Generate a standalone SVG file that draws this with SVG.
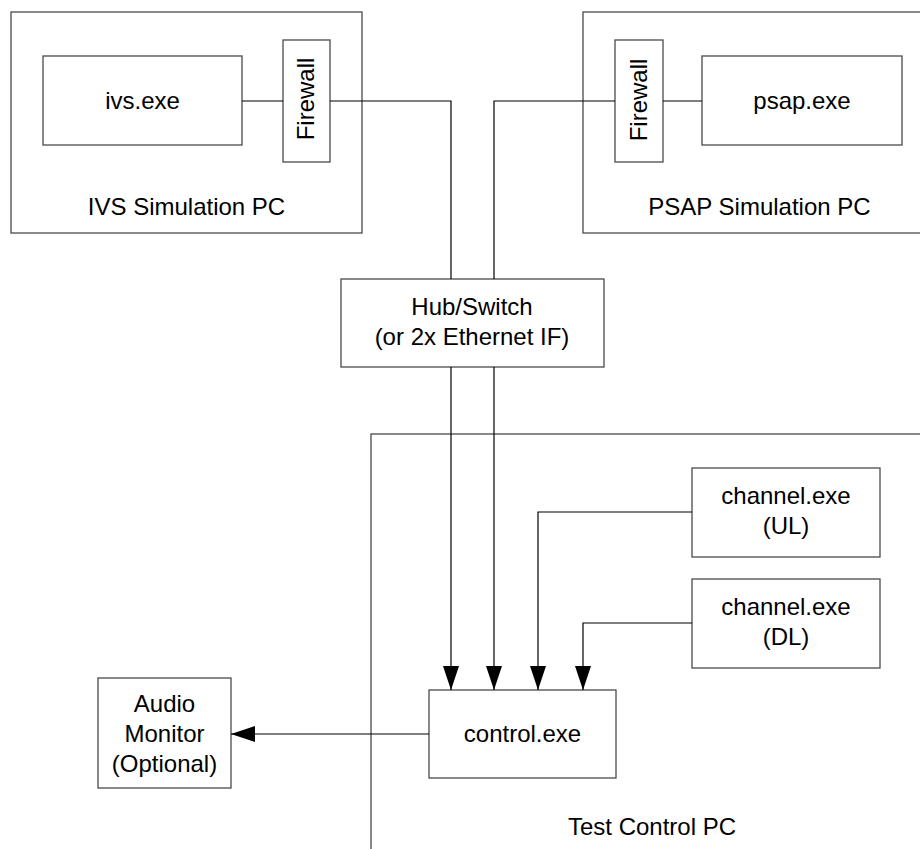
<svg xmlns="http://www.w3.org/2000/svg" width="920" height="849" viewBox="0 0 920 849">
<style>
.box{fill:none;stroke:#4a4a4a;stroke-width:1.3}
.ln{fill:none;stroke:#000;stroke-width:1.2}
text{font-family:"Liberation Sans",Arial,sans-serif;font-size:24px;fill:#000;text-anchor:middle}
</style>
<defs>
<marker id="arr" viewBox="0 0 24 16" refX="24" refY="8" markerWidth="24" markerHeight="16" markerUnits="userSpaceOnUse" orient="auto">
<path d="M0,0 L24,8 L0,16 z" fill="#000"/>
</marker>
</defs>
<rect width="920" height="849" fill="#fff"/>
<g id="ivs-pc">
<rect class="box" x="11" y="12" width="351" height="221"/>
<text x="186.5" y="215">IVS Simulation PC</text>
</g>
<g id="ivs-exe">
<rect class="box" x="43" y="56" width="199" height="89"/>
<text x="142.5" y="109">ivs.exe</text>
</g>
<g id="ivs-firewall">
<rect class="box" x="283" y="40" width="47" height="122"/>
<text transform="translate(314,99) rotate(-90)">Firewall</text>
</g>
<g id="psap-pc">
<rect class="box" x="583" y="12" width="345" height="221"/>
<text x="759.5" y="215">PSAP Simulation PC</text>
</g>
<g id="psap-firewall">
<rect class="box" x="615" y="40" width="48" height="122"/>
<text transform="translate(647,100) rotate(-90)">Firewall</text>
</g>
<g id="psap-exe">
<rect class="box" x="702" y="56" width="200" height="89"/>
<text x="802" y="109">psap.exe</text>
</g>
<g id="hub">
<rect class="box" x="341" y="279" width="263" height="88"/>
<text x="472" y="315">Hub/Switch</text>
<text x="472" y="345">(or 2x Ethernet IF)</text>
</g>
<g id="test-pc">
<rect class="box" x="371" y="434" width="560" height="430"/>
<text x="652" y="835">Test Control PC</text>
</g>
<g id="channel-ul">
<rect class="box" x="692" y="468" width="188" height="89"/>
<text x="786" y="504">channel.exe</text>
<text x="786" y="534">(UL)</text>
</g>
<g id="channel-dl">
<rect class="box" x="692" y="579" width="188" height="89"/>
<text x="786" y="615">channel.exe</text>
<text x="786" y="645">(DL)</text>
</g>
<g id="control">
<rect class="box" x="429" y="690" width="187" height="88"/>
<text x="522.5" y="742">control.exe</text>
</g>
<g id="audio">
<rect class="box" x="98" y="678" width="133" height="110"/>
<text x="164.5" y="712">Audio</text>
<text x="164.5" y="742">Monitor</text>
<text x="164.5" y="772">(Optional)</text>
</g>
<g id="connectors">
<path class="ln" d="M242,101 H283"/>
<path class="ln" d="M330,101 H451 V279"/>
<path class="ln" d="M615,101 H494 V279"/>
<path class="ln" d="M663,101 H702"/>
<path class="ln" d="M451,367 V690" marker-end="url(#arr)"/>
<path class="ln" d="M494,367 V690" marker-end="url(#arr)"/>
<path class="ln" d="M692,512 H538 V690" marker-end="url(#arr)"/>
<path class="ln" d="M692,623 H583 V690" marker-end="url(#arr)"/>
<path class="ln" d="M429,734 H231" marker-end="url(#arr)"/>
</g>
</svg>
